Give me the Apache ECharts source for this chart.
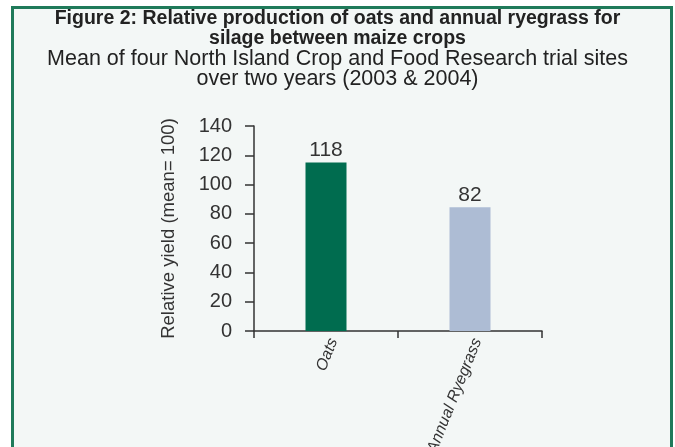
<!DOCTYPE html>
<html>
<head>
<meta charset="utf-8">
<script src="https://cdn.jsdelivr.net/npm/echarts@6/dist/echarts.min.js"></script>
<style>
html,body{margin:0;padding:0;background:#ffffff;}
#frame{position:absolute;left:11px;top:6px;width:656px;height:460px;border:3px solid #1f7a5a;background:#f3f7f6;}
#chart{position:absolute;left:0;top:0;width:675px;height:447px;}
</style>
</head>
<body>
<div id="frame"></div>
<div id="chart"></div>
<script>
const categories = ["Oats", "Annual Ryegrass"];
const barValues = [115, 84.5];
const valueLabels = ["118", "82"];
const barColors = ["#006c4f", "#adbcd4"];
const yTicks = [0, 20, 40, 60, 80, 100, 120, 140];

const chart = echarts.init(document.getElementById('chart'), null, {renderer: 'canvas'});
const fontFam = '"Liberation Sans", Arial, sans-serif';
chart.setOption({
  backgroundColor: 'transparent',
  animation: false,
  title: [
    {
      text: 'Figure 2: Relative production of oats and annual ryegrass for\nsilage between maize crops',
      left: 'center', top: 4,
      textStyle: {fontFamily: fontFam, fontWeight: 'bold', fontSize: 19.5, lineHeight: 20, color: '#222'}
    },
    {
      text: 'Mean of four North Island Crop and Food Research trial sites\nover two years (2003 & 2004)',
      left: 'center', top: 44,
      textStyle: {fontFamily: fontFam, fontWeight: 'normal', fontSize: 21.5, lineHeight: 20, color: '#222'}
    }
  ],
  grid: {left: 254, right: 133, top: 126, bottom: 116, containLabel: false, outerBoundsMode: 'none'},
  xAxis: {
    type: 'category',
    data: categories,
    axisLine: {show: true, lineStyle: {color: '#333', width: 1.5}},
    axisTick: {show: true, alignWithLabel: false, length: 7, lineStyle: {color: '#333', width: 1.5}},
    axisLabel: {rotate: 68, fontFamily: fontFam, fontSize: 16, fontStyle: 'italic', color: '#333', margin: 5, interval: 0, verticalAlign: 'top'}
  },
  yAxis: {
    type: 'value',
    min: 0, max: 140, interval: 20,
    name: 'Relative yield (mean= 100)',
    nameLocation: 'middle',
    nameGap: 76,
    nameTextStyle: {fontFamily: fontFam, fontSize: 18.5, color: '#333'},
    axisLine: {show: true, lineStyle: {color: '#333', width: 1.5}},
    axisTick: {show: true, inside: false, length: 9, lineStyle: {color: '#333', width: 1.5}},
    axisLabel: {fontFamily: fontFam, fontSize: 20, color: '#333', margin: 22,
      formatter: v => yTicks.includes(v) ? String(v) : ''},
    splitLine: {show: false}
  },
  series: [{
    type: 'bar',
    barWidth: 41,
    data: barValues.map((v, i) => ({value: v, itemStyle: {color: barColors[i]}})),
    label: {
      show: true, position: 'top', distance: 2,
      fontFamily: fontFam, fontSize: 21, color: '#333',
      formatter: p => valueLabels[p.dataIndex]
    }
  }]
});
</script>
</body>
</html>
